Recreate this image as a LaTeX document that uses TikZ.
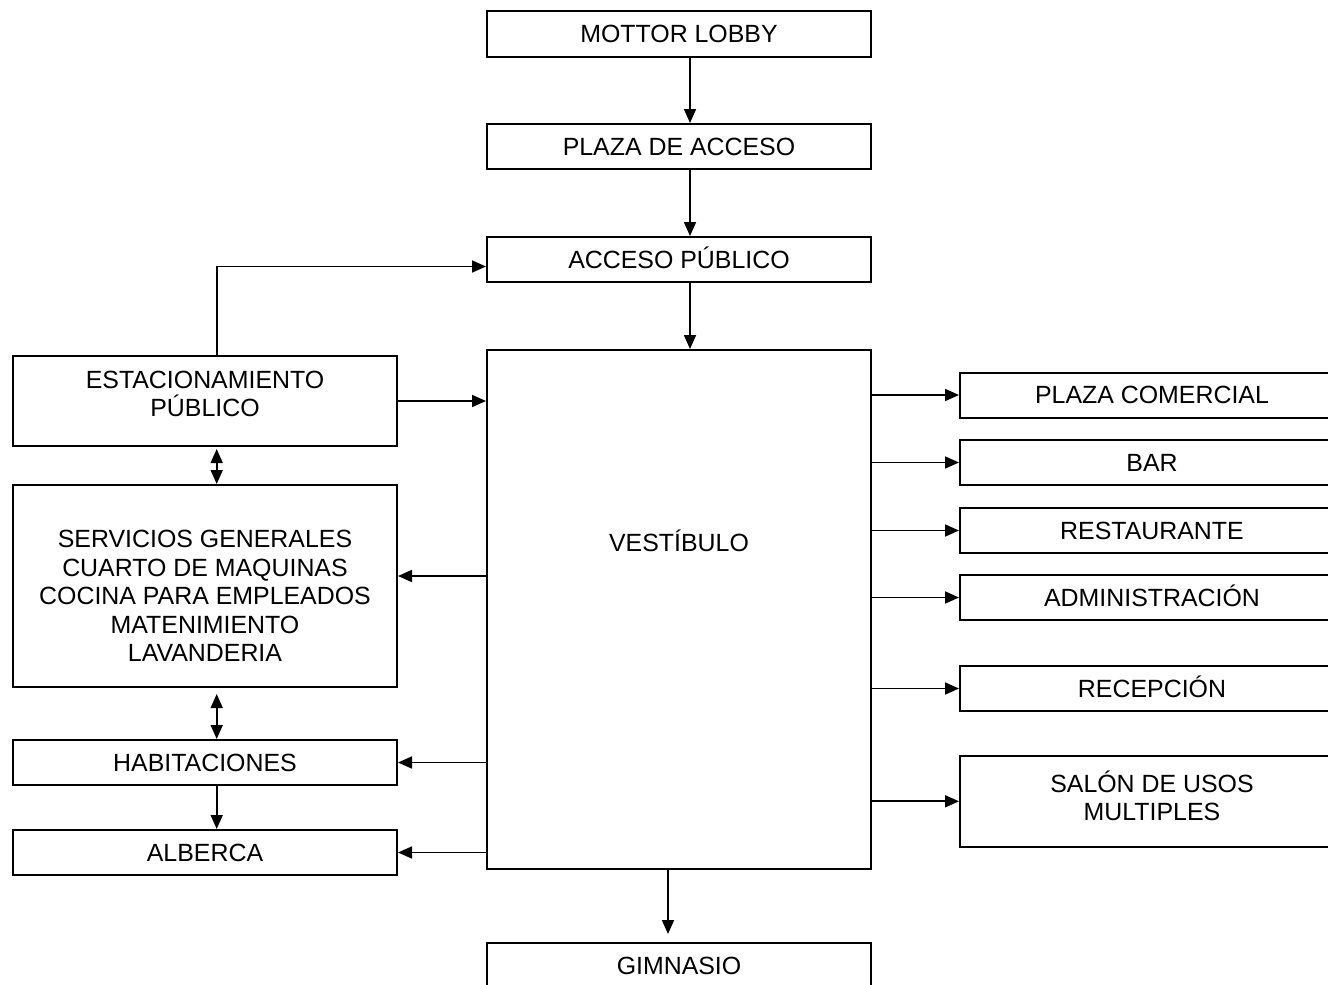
\documentclass[tikz,border=0pt]{standalone}
\usepackage{fontspec}
\setmainfont{Liberation Sans}
\usetikzlibrary{arrows.meta,calc}
\tikzset{
  box/.style={draw=black, line width=1pt, rectangle, inner sep=0pt, minimum width=192pt, text height=8.9pt, text depth=0pt},
  lbl/.style={align=center, inner sep=0pt},
  arr/.style={line width=0.85pt, -{Triangle[length=7pt,width=6pt]}},
  arrtwo/.style={line width=0.85pt, {Triangle[length=7pt,width=6pt]}-{Triangle[length=7pt,width=6pt]}}
}
\begin{document}
\begin{tikzpicture}[x=0.5pt,y=-0.5pt,font=\fontsize{12.45}{14.3}\selectfont]
\useasboundingbox (0,0) rectangle (1328,985);
\clip (0,0) rectangle (1328,985);
% central column
\node[box, minimum height=23pt] (ml) at (679,34) {MOTTOR LOBBY};
\node[box, minimum height=22.5pt] (pa) at (679,146.5) {PLAZA DE ACCESO};
\node[box, minimum height=22.5pt] (acc) at (679,259.5) {ACCESO PÚBLICO};
\node[box, minimum height=259.5pt] (vest) at (679,609.5) {};
\node[lbl] (vestt) at (679,541) {VESTÍBULO};
\node[box, minimum height=22.5pt] (gim) at (679,965.5) {GIMNASIO};
% left column
\node[box, minimum height=45pt] (est) at (205,401) {};
\node[lbl] (estt) at (205,394) {ESTACIONAMIENTO\\PÚBLICO};
\node[box, minimum height=101pt] (serv) at (205,586) {};
\node[lbl] (servt) at (205,596) {SERVICIOS GENERALES\\CUARTO DE MAQUINAS\\COCINA PARA EMPLEADOS\\MATENIMIENTO\\LAVANDERIA};
\node[box, minimum height=22.5pt] (hab) at (205,762.5) {HABITACIONES};
\node[box, minimum height=22.5pt] (alb) at (205,852.5) {ALBERCA};
% right column
\node[box, minimum height=22.5pt] (pc) at (1152,395) {PLAZA COMERCIAL};
\node[box, minimum height=22.5pt] (bar) at (1152,462.5) {BAR};
\node[box, minimum height=22.5pt] (rest) at (1152,530.5) {RESTAURANTE};
\node[box, minimum height=22.5pt] (adm) at (1152,597.5) {ADMINISTRACIÓN};
\node[box, minimum height=22.5pt] (rec) at (1152,688.5) {RECEPCIÓN};
\node[box, minimum height=45.5pt] (sal) at (1152,801.3) {};
\node[lbl] (salt) at (1152,796) {SALÓN DE USOS\\MULTIPLES};
% connectors: central column
\draw[arr] ([xshift=5.5pt]ml.south) -- ([xshift=5.5pt]pa.north);
\draw[arr] ([xshift=5.5pt]pa.south) -- ([xshift=5.5pt]acc.north);
\draw[arr] ([xshift=5.5pt]acc.south) -- ([xshift=5.5pt]vest.north);
\draw[arr] ([xshift=-5.5pt]vest.south) -- ([xshift=-5.5pt,yshift=4pt]gim.north);
% left side
\draw[arr] ([xshift=5.85pt]est.north) |- ([yshift=-3.5pt]acc.west);
\draw[arr] (est.east) -- (est.east -| vest.west);
\draw[arrtwo] ([xshift=5.85pt,yshift=-1pt]est.south) -- ([xshift=5.85pt]serv.north);
\draw[arrtwo] ([xshift=5.85pt,yshift=-3pt]serv.south) -- ([xshift=5.85pt]hab.north);
\draw[arr] ([xshift=5.85pt]hab.south) -- ([xshift=5.85pt]alb.north);
\draw[arr] ($(vest.west |- serv.east)+(0,-10)$) -- ($(serv.east)+(0,-10)$);
\draw[arr] (vest.west |- hab.east) -- (hab.east);
\draw[arr] (vest.west |- alb.east) -- (alb.east);
% right side
\draw[arr] (vest.east |- pc.west) -- (pc.west);
\draw[arr] (vest.east |- bar.west) -- (bar.west);
\draw[arr] (vest.east |- rest.west) -- (rest.west);
\draw[arr] (vest.east |- adm.west) -- (adm.west);
\draw[arr] (vest.east |- rec.west) -- (rec.west);
\draw[arr] (vest.east |- sal.west) -- (sal.west);
\end{tikzpicture}
\end{document}
